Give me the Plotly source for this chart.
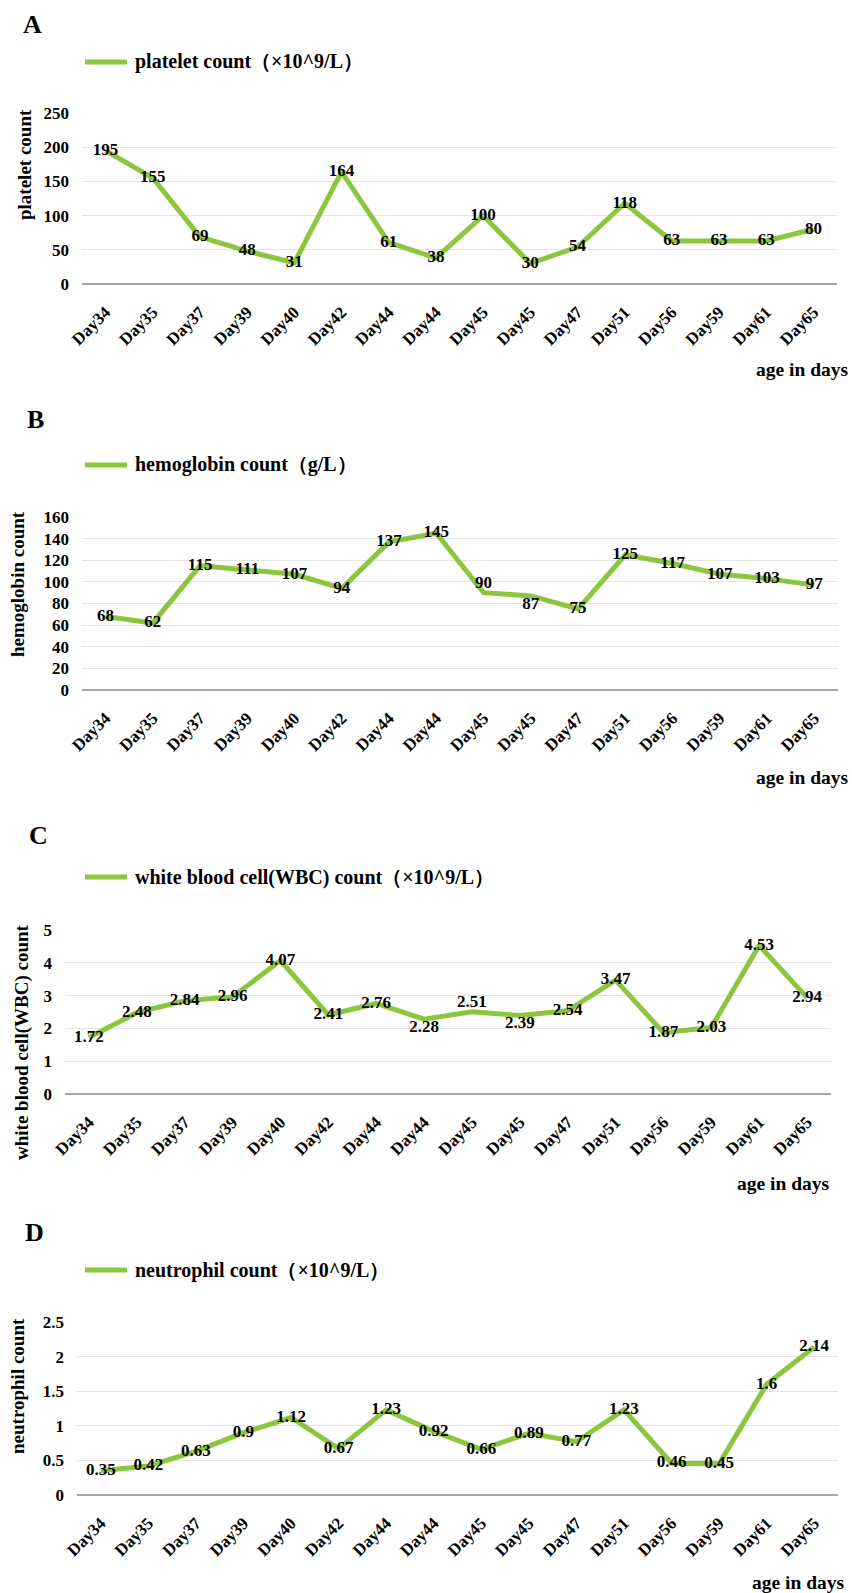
import plotly.graph_objects as go

days = ["Day34", "Day35", "Day37", "Day39", "Day40", "Day42", "Day44", "Day44",
        "Day45", "Day45", "Day47", "Day51", "Day56", "Day59", "Day61", "Day65"]

platelet = [195, 155, 69, 48, 31, 164, 61, 38, 100, 30, 54, 118, 63, 63, 63, 80]
hemoglobin = [68, 62, 115, 111, 107, 94, 137, 145, 90, 87, 75, 125, 117, 107, 103, 97]
wbc = [1.72, 2.48, 2.84, 2.96, 4.07, 2.41, 2.76, 2.28, 2.51, 2.39, 2.54, 3.47, 1.87, 2.03, 4.53, 2.94]
neutrophil = [0.35, 0.42, 0.63, 0.9, 1.12, 0.67, 1.23, 0.92, 0.66, 0.89, 0.77, 1.23, 0.46, 0.45, 1.6, 2.14]

series_names = ["platelet count（×10^9/L）", "hemoglobin count（g/L）",
                "white blood cell(WBC) count（×10^9/L）", "neutrophil count（×10^9/L）"]
y_titles = ["platelet count", "hemoglobin count", "white blood cell(WBC) count", "neutrophil count"]
panel_letters = ["A", "B", "C", "D"]
y_ranges = [(0, 250), (0, 160), (0, 5), (0, 2.5)]
y_dticks = [50, 20, 1, 0.5]
x_title = "age in days"

W, H = 852, 1593
GREEN = "#8CC63E"
FONT = "Liberation Serif"


def py(p):
    return 1 - p / H


def px(p):
    return p / W


# layout geometry in pixels (left, right, top, bottom)
boxes = [(82, 837, 113, 284), (82, 838, 517, 690), (65, 831, 930, 1094), (77, 838, 1322, 1495)]
letter_pos = [(32, 24), (35, 420), (38, 835), (34, 1232)]
legend_y = [62, 465, 877, 1270]
ytitle_pos = [(25, 165), (17, 584), (22, 1042), (17, 1386)]
xtitle_pos = [(851, 370), (851, 777), (832, 1183), (847, 1582)]

label_pos = [
    ["middle center"] * 16,
    ["middle center"] * 8 + ["top center", "bottom center"] + ["middle center"] * 6,
    ["middle center"] * 7 + ["bottom center", "top center", "bottom center"] + ["middle center"] * 6,
    ["middle center"] * 16,
]

data = [platelet, hemoglobin, wbc, neutrophil]
fig = go.Figure()
xs = list(range(len(days)))

annotations = []
shapes = []
for i in range(4):
    ax = "" if i == 0 else str(i + 1)
    fig.add_trace(go.Scatter(
        x=xs, y=data[i], mode="lines+text",
        text=[str(v) for v in data[i]],
        textposition=label_pos[i],
        textfont=dict(family=FONT, size=17, color="#000000", weight="bold"),
        line=dict(color=GREEN, width=5),
        name=series_names[i], showlegend=False, cliponaxis=False, hoverinfo="skip",
        xaxis="x" + ax, yaxis="y" + ax,
    ))
    l, r, t, b = boxes[i]
    fig.update_layout(**{
        "xaxis" + ax: dict(
            domain=[px(l), px(r)], anchor="y" + ax, range=[-0.5, 15.5],
            tickvals=xs, ticktext=days, tickangle=-45, showgrid=False,
            showline=False, zeroline=False, ticks="", automargin=False,
            ticklabelstandoff=14,
            tickfont=dict(family=FONT, size=17, color="#000000", weight="bold"),
        ),
        "yaxis" + ax: dict(
            domain=[py(b), py(t)], anchor="x" + ax, range=list(y_ranges[i]),
            dtick=y_dticks[i], showgrid=True, gridcolor="#E4E4E4", gridwidth=1.3,
            zeroline=True, zerolinecolor="#A6A6A6", zerolinewidth=2,
            showline=False, ticks="", ticklabelstandoff=12, automargin=False,
            tickfont=dict(family=FONT, size=17, color="#000000", weight="bold"),
        ),
    })
    lx, ly = letter_pos[i]
    annotations.append(dict(text=panel_letters[i], x=px(lx), y=py(ly), xref="paper", yref="paper",
                            showarrow=False, xanchor="center", yanchor="middle",
                            font=dict(family=FONT, size=26, color="#000000", weight="bold")))
    shapes.append(dict(type="line", xref="paper", yref="paper",
                       x0=px(85), x1=px(127), y0=py(legend_y[i]), y1=py(legend_y[i]),
                       line=dict(color=GREEN, width=5)))
    annotations.append(dict(text=series_names[i], x=px(133), y=py(legend_y[i]), xref="paper", yref="paper",
                            showarrow=False, xanchor="left", yanchor="middle",
                            font=dict(family=FONT, size=20, color="#000000", weight="bold")))
    tx, tyy = ytitle_pos[i]
    annotations.append(dict(text=y_titles[i], x=px(tx), y=py(tyy), xref="paper", yref="paper",
                            showarrow=False, xanchor="center", yanchor="middle", textangle=-90,
                            font=dict(family=FONT, size=19, color="#000000", weight="bold")))
    xx, xy = xtitle_pos[i]
    annotations.append(dict(text=x_title, x=px(xx), y=py(xy), xref="paper", yref="paper",
                            showarrow=False, xanchor="right", yanchor="middle",
                            font=dict(family=FONT, size=19.5, color="#000000", weight="bold")))

fig.update_layout(
    width=W, height=H, margin=dict(l=0, r=0, t=0, b=0, pad=0),
    paper_bgcolor="white", plot_bgcolor="white",
    annotations=annotations, shapes=shapes, showlegend=False,
)

fig.write_html("out.html", config={"displayModeBar": False},
               post_script="document.body.style.margin='0';document.body.style.overflow='hidden';")
